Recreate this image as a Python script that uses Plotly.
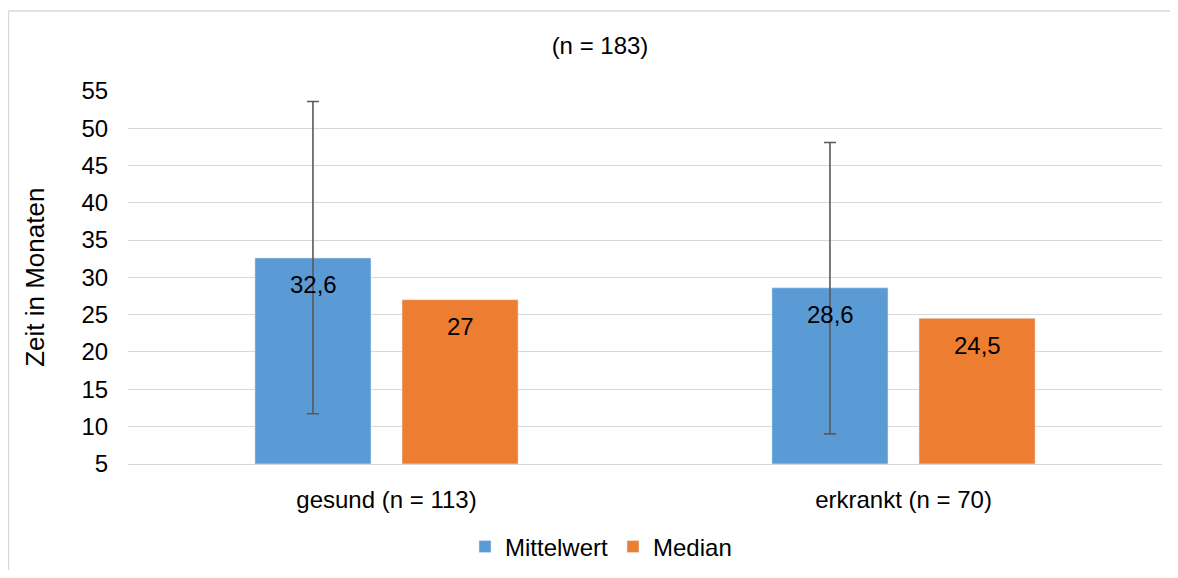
import plotly.graph_objects as go

categories = ["gesund (n = 113)", "erkrankt (n = 70)"]
mittelwert = [32.6, 28.6]
median = [27, 24.5]
sd_plus = [21.0, 19.5]
sd_minus = [20.9, 19.6]
mittel_labels = ["32,6", "28,6"]
median_labels = ["27", "24,5"]
title_text = "(n = 183)"
y_title = "Zeit in Monaten"
y_ticks = [5, 10, 15, 20, 25, 30, 35, 40, 45, 50, 55]

BLUE = "#5B9BD5"
ORANGE = "#ED7D31"
FONT = "Liberation Sans, Arial, sans-serif"
FS = 24
OFF = 8  # page body margin

W, H = 1178 - OFF, 578 - 2 * OFF

fig = go.Figure()
fig.add_trace(go.Bar(
    name="Mittelwert", x=categories, y=mittelwert, marker_color=BLUE,
    error_y=dict(type="data", symmetric=False, array=sd_plus, arrayminus=sd_minus,
                 color="#595959", thickness=1.6, width=6),
))
fig.add_trace(go.Bar(name="Median", x=categories, y=median, marker_color=ORANGE))

for i, c in enumerate(categories):
    fig.add_annotation(x=c, y=mittelwert[i], xref="x", yref="y", text=mittel_labels[i],
                       showarrow=False, xshift=-73.5, yshift=-27,
                       font=dict(family=FONT, size=FS, color="#000000"))
    fig.add_annotation(x=c, y=median[i], xref="x", yref="y", text=median_labels[i],
                       showarrow=False, xshift=73.5, yshift=-27,
                       font=dict(family=FONT, size=FS, color="#000000"))

fig.add_annotation(x=(35 - 128) / 1034, y=(466 - 279) / 375, xref="paper", yref="paper",
                   text=y_title, textangle=-90, showarrow=False,
                   xanchor="center", yanchor="middle",
                   font=dict(family=FONT, size=26, color="#000000"))

# outer chart frame (top and left edges visible in the reference)
bx = (8.5 - 128) / 1034
by = (466 - 10.5) / 375
fig.add_shape(type="line", xref="paper", yref="paper", x0=bx, x1=1.2, y0=by, y1=by,
              line=dict(color="#D9D9D9", width=1.5), layer="below")
fig.add_shape(type="line", xref="paper", yref="paper", x0=bx, x1=bx, y0=-0.5, y1=by,
              line=dict(color="#D9D9D9", width=1.5), layer="below")

fig.update_layout(
    width=W, height=H,
    margin=dict(l=128 - OFF, r=(OFF + W) - 1162, t=91 - OFF, b=(OFF + H) - 466),
    paper_bgcolor="white", plot_bgcolor="white",
    font=dict(family=FONT, size=FS, color="#000000"),
    barmode="group", bargap=0.431, bargroupgap=0.211,
    title=dict(text=title_text, x=(600 - OFF) / W, xref="container", xanchor="center",
               y=1 - (46 - OFF) / H, yref="container", yanchor="middle",
               font=dict(family=FONT, size=FS, color="#000000")),
    legend=dict(orientation="h", x=(601 - OFF) / W, xref="container", xanchor="center",
                y=1 - (547 - OFF) / H, yref="container", yanchor="middle",
                font=dict(family=FONT, size=FS, color="#000000"),
                itemwidth=30, traceorder="normal"),
    showlegend=True,
)
fig.update_yaxes(range=[5, 55], tickvals=y_ticks, showgrid=True, gridcolor="#D9D9D9",
                 gridwidth=1, zeroline=False, showline=False, ticks="outside",
                 ticklen=14, tickcolor="rgba(0,0,0,0)",
                 tickfont=dict(family=FONT, size=FS, color="#000000"))
fig.update_xaxes(showline=True, linecolor="#D9D9D9", linewidth=1, ticks="outside",
                 ticklen=14, tickcolor="rgba(0,0,0,0)",
                 tickfont=dict(family=FONT, size=FS, color="#000000"))

fig.write_html("out.html")
